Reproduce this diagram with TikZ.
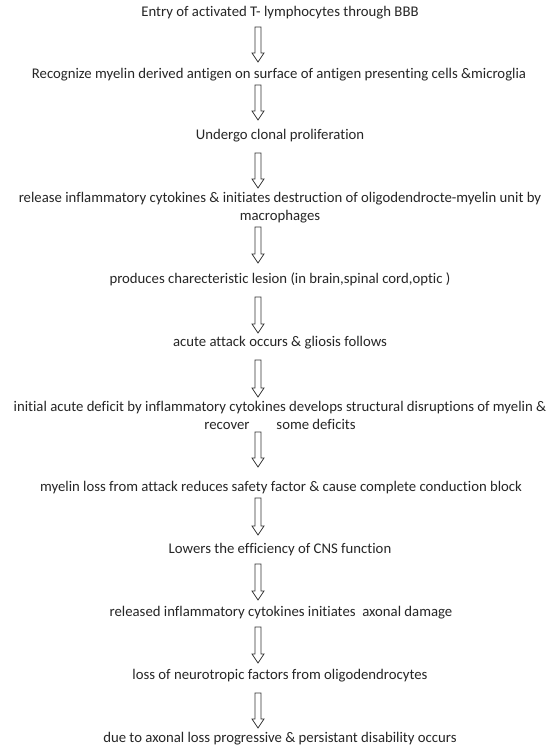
\documentclass[tikz,border=0pt]{standalone}
\usepackage{fontspec}
\setmainfont{Carlito}[Ligatures={NoCommon,NoRequired,NoContextual}]
\usetikzlibrary{calc}
\begin{document}
\begin{tikzpicture}[x=1bp,y=-1bp,
  txt/.style={inner sep=0pt, anchor=base, font=\fontsize{14.8}{18}\selectfont, align=center, text=black!85},
  hollow/.style={draw=black!80, line width=0.8bp, line join=miter,
    to path={let \p1=(\tikztostart), \p2=(\tikztotarget) in
      (\x1-3bp,\y1) -- (\x1+3bp,\y1) -- (\x1+3bp,\y2+9bp) -- (\x1+6bp,\y2+9bp)
      -- (\x1,\y2) -- (\x1-6bp,\y2+9bp) -- (\x1-3bp,\y2+9bp) -- cycle}}]
\useasboundingbox (0,0) rectangle (560,748);
\fill[white] (0,0) rectangle (560,748);

\node[txt] (n1) at (280,16.5) {Entry of activated T- lymphocytes through BBB};
\node[txt] (n2) at (279,78.5) {Recognize myelin derived antigen on surface of antigen presenting cells \&microglia};
\node[txt] (n3) at (280,139) {Undergo clonal proliferation};
\node[txt] (n4) at (280,220.5) {release inflammatory cytokines \& initiates destruction of oligodendrocte-myelin unit by\\macrophages};
\node[txt] (n5) at (280,283.5) {produces charecteristic lesion (in brain,spinal cord,optic )};
\node[txt] (n6) at (280,346.5) {acute attack occurs \& gliosis follows};
\node[txt] (n7) at (280,429.5) {initial acute deficit by inflammatory cytokines develops structural disruptions of myelin \&\\recover\hspace{27bp}some deficits};
\node[txt] (n8) at (281,491.5) {myelin loss from attack reduces safety factor \& cause complete conduction block};
\node[txt] (n9) at (280,553.5) {Lowers the efficiency of CNS function};
\node[txt] (n10) at (281,616.5) {released inflammatory cytokines initiates\ \ axonal damage};
\node[txt] (n11) at (280,679.5) {loss of neurotropic factors from oligodendrocytes};
\node[txt] (n12) at (280,742.5) {due to axonal loss progressive \& persistant disability occurs};

\coordinate (a1s) at (258,27);  \coordinate (a1e) at (258,62);
\coordinate (a2s) at (258,85);  \coordinate (a2e) at (258,120);
\coordinate (a3s) at (258,153); \coordinate (a3e) at (258,188);
\coordinate (a4s) at (258,227); \coordinate (a4e) at (258,263);
\coordinate (a5s) at (258,297); \coordinate (a5e) at (258,333);
\coordinate (a6s) at (258,360); \coordinate (a6e) at (258,397);
\coordinate (a7s) at (258,432); \coordinate (a7e) at (258,467);
\coordinate (a8s) at (258,498); \coordinate (a8e) at (258,535);
\coordinate (a9s) at (258,564); \coordinate (a9e) at (258,600);
\coordinate (a10s) at (258,627); \coordinate (a10e) at (258,663);
\coordinate (a11s) at (258,693); \coordinate (a11e) at (258,728);

\foreach \i in {1,...,11} { \draw[hollow] (a\i s) to (a\i e); }
\end{tikzpicture}
\end{document}
